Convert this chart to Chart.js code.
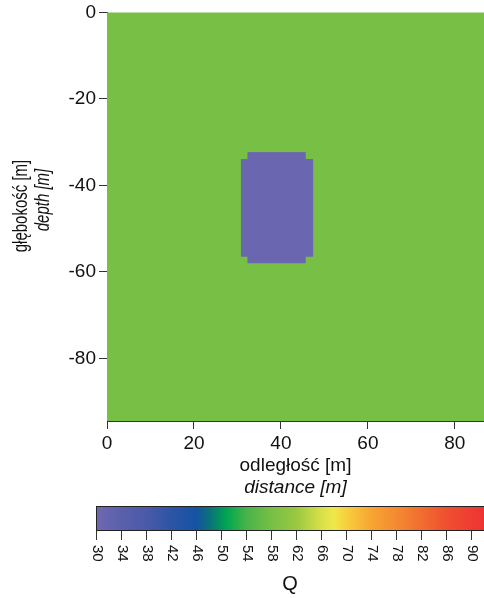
<!DOCTYPE html>
<html lang="pl">

<head>
    <meta charset="UTF-8">
    <title>Q – przekrój</title>
    <script src="https://cdn.jsdelivr.net/npm/chart.js@4.4.1/dist/chart.umd.min.js"></script>
</head>

<body>
    <div id="sectionBox">
        <canvas id="sectionCanvas"></canvas>
    </div>
    <div id="barBox">
        <canvas id="barCanvas"></canvas>
    </div>
</body>
<style>
    * {
        margin: 0;
        padding: 0;
    }

    body {
        background: #ffffff;
        width: 484px;
        height: 598px;
        overflow: hidden;
        position: relative;
    }

    #sectionBox {
        position: absolute;
        left: 0;
        top: 0;
        width: 484px;
        height: 500px;
    }

    #barBox {
        position: absolute;
        left: 0;
        top: 495px;
        width: 484px;
        height: 103px;
    }
</style>

<script>
    const FONT = "'Liberation Sans', Arial, sans-serif"

    // model extent [m]
    const distanceRange = [0, 86.7]
    const depthRange = [-94.5, 0]

    // background medium
    const backgroundQ = 58

    // low-Q body, built from two overlapping blocks
    const blockX0 = [30.8, 32.3]
    const blockX1 = [47.4, 45.7]
    const blockTop = [-33.9, -32.3]
    const blockBottom = [-56.5, -58.0]
    const blockQ = [31, 31]

    // colour scale
    const qRange = [30, 92]
    const qTicks = [30, 34, 38, 42, 46, 50, 54, 58, 62, 66, 70, 74, 78, 82, 86, 90]
    const qStops = [30, 34, 38, 42, 46, 48, 51, 54, 58, 62, 66, 68, 70, 74, 78, 82, 86, 92]
    const qColors = ['#7168b1', '#5a60ab', '#4a5aa8', '#2d55a5', '#1553a4', '#0b6f7c', '#00a84f', '#48b348',
        '#77bf45', '#99c841', '#d8e048', '#efe84a', '#f8cf3e', '#f7a532', '#f48a31', '#f16d30', '#ef5030', '#ee3333']

    function hexToRgb(h) {
        return [parseInt(h.slice(1, 3), 16), parseInt(h.slice(3, 5), 16), parseInt(h.slice(5, 7), 16)]
    }

    function colorForQ(q) {
        if (q <= qStops[0]) return qColors[0]
        for (let i = 1; i < qStops.length; i++) {
            if (q <= qStops[i]) {
                let t = (q - qStops[i - 1]) / (qStops[i] - qStops[i - 1])
                let a = hexToRgb(qColors[i - 1])
                let b = hexToRgb(qColors[i])
                let c = a.map((v, k) => Math.round(v + (b[k] - v) * t))
                return `rgb(${c[0]}, ${c[1]}, ${c[2]})`
            }
        }
        return qColors[qColors.length - 1]
    }

    // rotated text, optionally stretched across its glyph height
    function drawVertical(ctx, text, x, y, angle, font, stretch) {
        ctx.save()
        ctx.font = font
        ctx.translate(x, y)
        ctx.rotate(angle)
        ctx.scale(1, stretch)
        ctx.fillText(text, 0, 0)
        ctx.restore()
    }

    // paints the Q field under the axes
    const fieldPlugin = {
        id: 'field',
        beforeDatasetsDraw(chart) {
            const ctx = chart.ctx
            const x = chart.scales.x
            const y = chart.scales.y
            ctx.save()
            ctx.fillStyle = colorForQ(backgroundQ)
            let l = x.getPixelForValue(distanceRange[0])
            let r = x.getPixelForValue(distanceRange[1])
            let t = y.getPixelForValue(depthRange[1])
            let b = y.getPixelForValue(depthRange[0])
            ctx.fillRect(l, t, r - l, b - t)
            for (let i = 0; i < blockQ.length; i++) {
                ctx.fillStyle = colorForQ(blockQ[i])
                let x0 = x.getPixelForValue(blockX0[i])
                let x1 = x.getPixelForValue(blockX1[i])
                let y0 = y.getPixelForValue(blockTop[i])
                let y1 = y.getPixelForValue(blockBottom[i])
                ctx.fillRect(x0, y0, x1 - x0, y1 - y0)
            }
            ctx.restore()
        },
        afterDraw(chart) {
            const ctx = chart.ctx
            const area = chart.chartArea
            let cx = (area.left + area.right) / 2
            ctx.save()
            ctx.fillStyle = '#111'
            ctx.textAlign = 'center'
            ctx.textBaseline = 'middle'
            ctx.font = '19px ' + FONT
            ctx.fillText('odległość [m]', cx, 466)
            ctx.font = 'italic 19px ' + FONT
            ctx.fillText('distance [m]', cx, 488)

            drawVertical(ctx, 'głębokość [m]', 22, 206, -Math.PI / 2, '15px ' + FONT, 1.3)
            drawVertical(ctx, 'depth [m]', 44, 200, -Math.PI / 2, 'italic 15px ' + FONT, 1.3)
            ctx.restore()
        }
    }

    // gradient strip, frame and rotated tick labels of the colour bar
    const barPlugin = {
        id: 'bar',
        beforeDatasetsDraw(chart) {
            const ctx = chart.ctx
            const x = chart.scales.x
            const area = chart.chartArea
            let p0 = x.getPixelForValue(qStops[0])
            let p1 = x.getPixelForValue(qStops[qStops.length - 1])
            let grad = ctx.createLinearGradient(p0, 0, p1, 0)
            for (let i = 0; i < qStops.length; i++) {
                grad.addColorStop((x.getPixelForValue(qStops[i]) - p0) / (p1 - p0), qColors[i])
            }
            ctx.save()
            ctx.fillStyle = grad
            ctx.fillRect(area.left, area.top, area.right - area.left, area.bottom - area.top)
            ctx.strokeStyle = '#222'
            ctx.lineWidth = 1
            ctx.strokeRect(area.left + 0.5, area.top + 0.5, area.right - area.left, area.bottom - area.top)
            ctx.restore()
        },
        afterDraw(chart) {
            const ctx = chart.ctx
            const x = chart.scales.x
            ctx.save()
            ctx.fillStyle = '#111'
            ctx.textAlign = 'left'
            ctx.textBaseline = 'middle'
            x.ticks.forEach(function (tick) {
                drawVertical(ctx, String(tick.value), x.getPixelForValue(tick.value) + 1, 50, Math.PI / 2, '15px ' + FONT, 1)
            })
            ctx.font = '20px ' + FONT
            ctx.textAlign = 'center'
            ctx.fillText('Q', (chart.chartArea.left + chart.chartArea.right) / 2, 89)
            ctx.restore()
        }
    }

    const sectionChart = new Chart(document.getElementById('sectionCanvas'), {
        type: 'scatter',
        data: { datasets: [] },
        plugins: [fieldPlugin],
        options: {
            responsive: true,
            maintainAspectRatio: false,
            animation: false,
            layout: { padding: { top: 0, right: 0, left: 0, bottom: 0 } },
            plugins: { legend: { display: false }, tooltip: { enabled: false } },
            scales: {
                x: {
                    type: 'linear',
                    min: distanceRange[0],
                    max: distanceRange[1],
                    afterFit(scale) { scale.height = 79 },
                    ticks: { stepSize: 20, includeBounds: false, color: '#111', padding: 3, maxRotation: 0, font: { family: FONT, size: 19 } },
                    grid: { drawOnChartArea: false, tickLength: 8, color: '#333' },
                    border: { color: '#333', width: 1 }
                },
                y: {
                    type: 'linear',
                    min: depthRange[0],
                    max: depthRange[1],
                    afterFit(scale) { scale.width = 107 },
                    ticks: { stepSize: 20, includeBounds: false, color: '#111', padding: 3, font: { family: FONT, size: 19, lineHeight: 1.0 } },
                    grid: { drawOnChartArea: false, tickLength: 8, color: '#333' },
                    border: { color: '#333', width: 1 }
                }
            }
        }
    })

    const barChart = new Chart(document.getElementById('barCanvas'), {
        type: 'scatter',
        data: { datasets: [] },
        plugins: [barPlugin],
        options: {
            responsive: true,
            maintainAspectRatio: false,
            animation: false,
            layout: { padding: { top: 11, right: 0, left: 96, bottom: 0 } },
            plugins: { legend: { display: false }, tooltip: { enabled: false } },
            scales: {
                x: {
                    type: 'linear',
                    min: qRange[0],
                    max: qRange[1],
                    afterBuildTicks(scale) { scale.ticks = qTicks.map(v => ({ value: v })) },
                    afterFit(scale) { scale.height = 68 },
                    ticks: { color: 'rgba(0,0,0,0)', maxRotation: 0, autoSkip: false, font: { family: FONT, size: 6 } },
                    grid: { drawOnChartArea: false, tickLength: 10, color: '#333' },
                    border: { color: '#222', width: 1 }
                },
                y: { display: false, min: 0, max: 1 }
            }
        }
    })
</script>

</html>
